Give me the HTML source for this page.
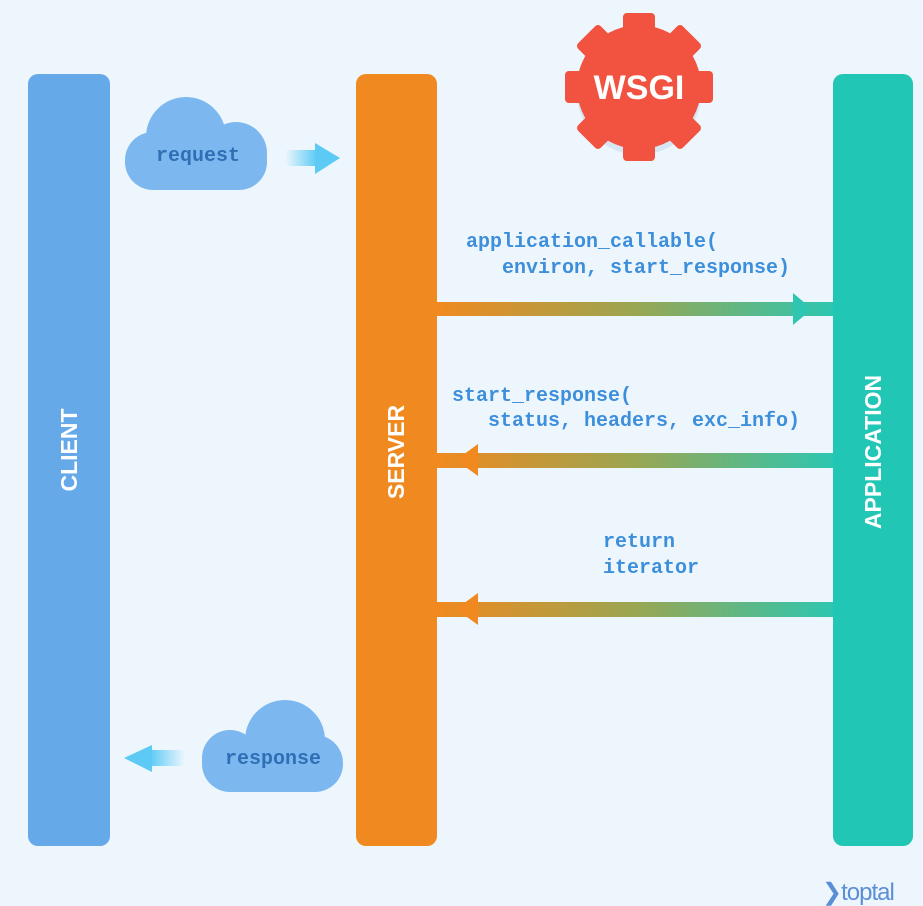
<!DOCTYPE html>
<html><head><style>
html,body{margin:0;padding:0;background:#eef6fd;}
svg{display:block}
.code{font-family:"Liberation Mono",monospace;font-weight:bold;font-size:20px;fill:#3d8fdc}
.lbl{font-family:"Liberation Sans",sans-serif;font-weight:bold;font-size:23px;fill:#fff}
</style></head><body>
<svg width="923" height="906" viewBox="0 0 923 906" xmlns="http://www.w3.org/2000/svg">
<defs>
<linearGradient id="g" x1="0" x2="1" y1="0" y2="0">
<stop offset="0" stop-color="#f0891f"/><stop offset="0.5" stop-color="#9aa652"/><stop offset="1" stop-color="#2ec6b0"/>
</linearGradient>
<linearGradient id="ar" x1="0" x2="1"><stop offset="0" stop-color="#5ccaf5" stop-opacity="0"/><stop offset="1" stop-color="#5ccaf5"/></linearGradient>
<linearGradient id="al" x1="1" x2="0"><stop offset="0" stop-color="#5ccaf5" stop-opacity="0"/><stop offset="1" stop-color="#5ccaf5"/></linearGradient>
</defs>
<rect width="923" height="906" fill="#eef6fd"/>
<rect x="28" y="74" width="82" height="772" rx="10" fill="#66a9e8"/>
<rect x="356" y="74" width="81" height="772" rx="10" fill="#f08a20"/>
<rect x="833" y="74" width="80" height="772" rx="10" fill="#22c6b5"/>
<text class="lbl" transform="translate(77,450) rotate(-90)" text-anchor="middle">CLIENT</text>
<text class="lbl" transform="translate(404,452) rotate(-90)" text-anchor="middle">SERVER</text>
<text class="lbl" transform="translate(881,452) rotate(-90)" text-anchor="middle">APPLICATION</text>
<g transform="translate(639,87)">
<circle r="62" fill="#d7e6f5" transform="translate(0,6)"/>
<g fill="#f25340">
<circle r="62"/>
<rect x="-16" y="-74" width="32" height="148" rx="4"/>
<rect x="-16" y="-74" width="32" height="148" rx="4" transform="rotate(45)"/>
<rect x="-16" y="-74" width="32" height="148" rx="4" transform="rotate(90)"/>
<rect x="-16" y="-74" width="32" height="148" rx="4" transform="rotate(135)"/>
</g>
<text y="12" text-anchor="middle" font-family="Liberation Sans,sans-serif" font-weight="bold" font-size="34" fill="#fff">WSGI</text>
</g>
<g fill="#7cb8ef">
<rect x="125" y="132" width="142" height="58" rx="28"/>
<circle cx="186" cy="137" r="40"/>
<circle cx="236" cy="153" r="31"/>
</g>
<text class="code" x="198" y="161" text-anchor="middle" font-size="17" style="fill:#2f6fb5">request</text>
<rect x="285" y="150" width="32" height="16" fill="url(#ar)"/>
<polygon points="315,143 340,158 315,174" fill="#5ccaf5"/>
<g fill="#7cb8ef">
<rect x="202" y="735" width="141" height="57" rx="28"/>
<circle cx="285" cy="740" r="40"/>
<circle cx="230" cy="758" r="28"/>
</g>
<text class="code" x="273" y="764" text-anchor="middle" font-size="17" style="fill:#2f6fb5">response</text>
<rect x="150" y="750" width="35" height="16" fill="url(#al)"/>
<polygon points="152,745 124,758 152,772" fill="#5ccaf5"/>
<rect x="437" y="302" width="396" height="14" fill="url(#g)"/>
<polygon points="793,293 812,309 793,325" fill="#2ec6b0"/>
<rect x="437" y="453" width="396" height="15" fill="url(#g)"/>
<polygon points="478,444 456,460 478,476" fill="#f0891f"/>
<rect x="437" y="602" width="396" height="15" fill="url(#g)"/>
<polygon points="478,593 456,609 478,625" fill="#f0891f"/>
<text class="code" x="466" y="247">application_callable(</text>
<text class="code" x="466" y="273" xml:space="preserve">   environ, start_response)</text>
<text class="code" x="452" y="401">start_response(</text>
<text class="code" x="452" y="426" xml:space="preserve">   status, headers, exc_info)</text>
<text class="code" x="603" y="547">return</text>
<text class="code" x="603" y="573">iterator</text>
<text x="822" y="900" font-family="Liberation Sans,sans-serif" font-size="24" fill="#5a8fd6" letter-spacing="-1">❯toptal</text>
</svg>
</body></html>
